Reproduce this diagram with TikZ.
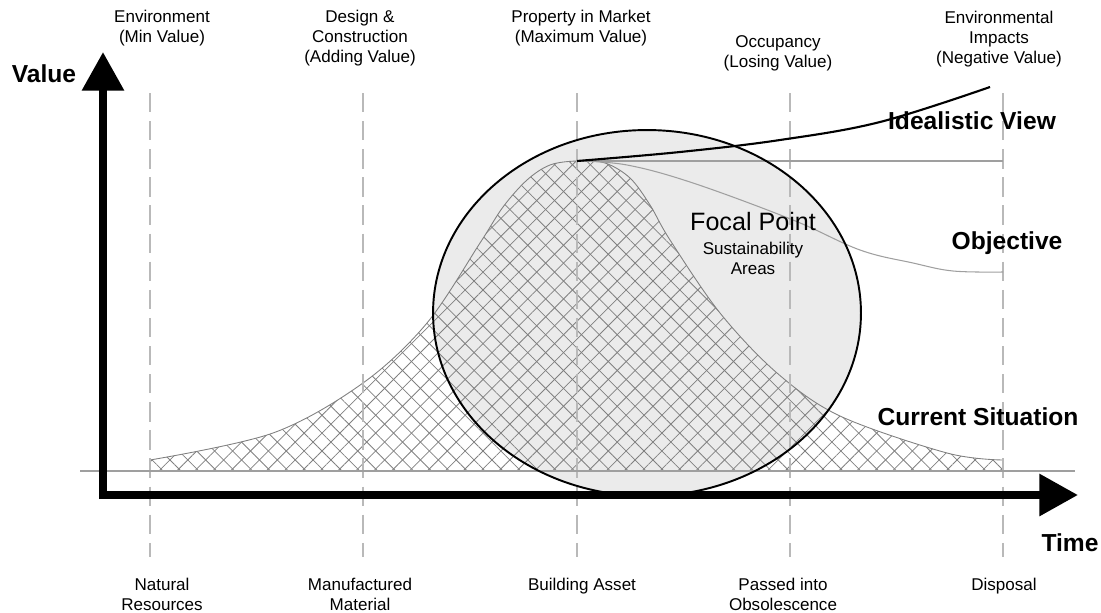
\documentclass[tikz,border=0pt]{standalone}
\usepackage{fontspec}
\setmainfont{Liberation Sans}
\usetikzlibrary{arrows.meta,patterns.meta}

\begin{document}
\begin{tikzpicture}[x=0.02cm,y=-0.02cm,
  lbl/.style={align=center,font=\fontsize{9.7}{11.3}\selectfont},
  big/.style={font=\fontsize{14}{16}\selectfont\bfseries},
  guide/.style={gray!55,line width=0.6pt,dash pattern=on 11pt off 5pt},
  thinline/.style={gray!75,line width=0.6pt},
  hatch/.style={pattern={Lines[angle=#1,distance=7.2pt,line width=0.45pt]},pattern color=gray},
  axis/.style={line width=4.6pt,-{Triangle[length=22pt,width=23pt]}}]

\useasboundingbox (0,0) rectangle (1101,612);

\fill[gray!16] (647,313) ellipse [x radius=4.28cm, y radius=3.66cm];

\path[draw=gray,line width=0.5pt,hatch=45,postaction={hatch=-45}]
  plot[smooth,tension=0.55] coordinates {(150,460) (273,433) (363,383) (427,323) (480,243)
    (503,207) (527,180) (550,165) (577,161) (605,163) (630,178) (650,205) (670,240)
    (720,313) (777,373) (840,416) (947,453) (1003,460)} -- (1003,471) -- (150,471) -- cycle;

\foreach \x in {150,363,577,790,1003}
  \draw[guide] (\x,93) -- (\x,557);
\draw[thinline] (80,471) -- (1075,471);

\coordinate (peak) at (577,161);
\draw[thinline] (peak) -- (1003,161);
\draw[thinline] plot[smooth,tension=0.6] coordinates {(577,161) (627,165) (693,183) (793,220)
    (860,250) (913,263) (953,271) (1003,272)};

\draw[line width=1.1pt] (647,313) ellipse [x radius=4.28cm, y radius=3.66cm];
\draw[line width=1.2pt] plot[smooth,tension=0.6] coordinates {(577,161) (680,152) (780,140)
    (880,122) (990,87)};

\coordinate (o1) at (103,499);
\coordinate (o2) at (99,495);
\coordinate (vtop) at (103,52);
\coordinate (hend) at (1078,495);
\draw[axis] (o1) -- (vtop);
\draw[axis] (o2) -- (hend);

\node[lbl] (t1) at (162,28) {Environment\\(Min Value)};
\node[lbl] (t2) at (360,38) {Design \&\\Construction\\(Adding Value)};
\node[lbl] (t3) at (581,28) {Property in Market\\(Maximum Value)};
\node[lbl] (t4) at (778,53) {Occupancy\\(Losing Value)};
\node[lbl] (t5) at (999,39) {Environmental\\Impacts\\(Negative Value)};

\node[lbl] (b1) at (162,594) {Natural\\Resources};
\node[lbl] (b2) at (360,594) {Manufactured\\Material};
\node[lbl] (b3) at (582,586) {Building Asset};
\node[lbl] (b4) at (783,594) {Passed into\\Obsolescence};
\node[lbl] (b5) at (1004,586) {Disposal};

\node[big] (value) at (44,74) {Value};
\node[big] (time) at (1070,543) {Time};
\node[big] (ideal) at (972,121) {Idealistic View};
\node[big] (obj) at (1007,243) {Objective};
\node[big] (cur) at (978,417) {Current Situation};

\node[font=\fontsize{14.3}{16}\selectfont] (focal) at (753,222) {Focal Point};
\node[lbl] (areas) at (753,258) {Sustainability\\Areas};

\end{tikzpicture}
\end{document}
